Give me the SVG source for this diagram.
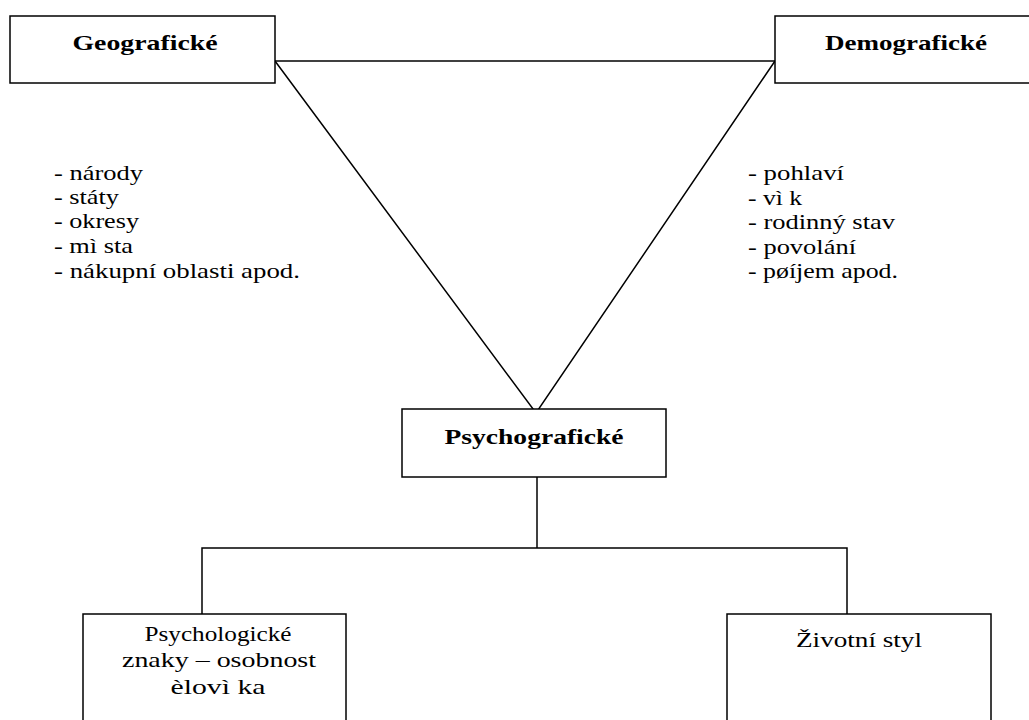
<svg xmlns="http://www.w3.org/2000/svg" width="1029" height="720" viewBox="0 0 1029 720">
<style>
.box{fill:#fff;stroke:#000;stroke-width:1.5}
.ln{fill:none;stroke:#000;stroke-width:1.5}
</style>
<defs/>
<rect width="1029" height="720" fill="#fff"/>
<g id="connectors">
<path class="ln" d="M275 61 L775 61"/>
<path class="ln" d="M275 61 L536 413 L775 61"/>
<path class="ln" d="M537 477 L537 548"/>
<path class="ln" d="M202 614 L202 548 L847 548 L847 614"/>
</g>
<g font-family="Liberation Serif, serif" font-size="22" fill="#000">
<g id="geograficke">
<rect class="box" x="10" y="16" width="265" height="67"/>
<text x="145" y="50" font-weight="bold" text-anchor="middle" textLength="145" lengthAdjust="spacingAndGlyphs">Geografické</text>
</g>
<g id="demograficke">
<rect class="box" x="775" y="16" width="270" height="67"/>
<text x="906" y="50" font-weight="bold" text-anchor="middle" textLength="162" lengthAdjust="spacingAndGlyphs">Demografické</text>
</g>
<g id="psychograficke">
<rect class="box" x="402" y="409" width="264" height="68"/>
<text x="534" y="444" font-weight="bold" text-anchor="middle" textLength="179" lengthAdjust="spacingAndGlyphs">Psychografické</text>
</g>
<g id="psychologicke">
<rect class="box" x="83" y="614" width="263" height="120"/>
<text x="218" y="641" text-anchor="middle" textLength="147" lengthAdjust="spacingAndGlyphs">Psychologické</text>
<text x="219" y="667" text-anchor="middle" textLength="194" lengthAdjust="spacingAndGlyphs">znaky – osobnost</text>
<text x="218" y="694" text-anchor="middle" textLength="95" lengthAdjust="spacingAndGlyphs">èlovì ka</text>
</g>
<g id="zivotni-styl">
<rect class="box" x="727" y="614" width="264" height="120"/>
<text x="859" y="647" text-anchor="middle" textLength="126" lengthAdjust="spacingAndGlyphs">Životní styl</text>
</g>
<g id="geo-list">
<text x="54" y="180" textLength="89" lengthAdjust="spacingAndGlyphs">- národy</text>
<text x="54" y="204" textLength="65" lengthAdjust="spacingAndGlyphs">- státy</text>
<text x="54" y="228" textLength="85" lengthAdjust="spacingAndGlyphs">- okresy</text>
<text x="54" y="253" textLength="79" lengthAdjust="spacingAndGlyphs">- mì sta</text>
<text x="54" y="278" textLength="246" lengthAdjust="spacingAndGlyphs">- nákupní oblasti apod.</text>
</g>
<g id="demo-list">
<text x="748" y="180" textLength="96" lengthAdjust="spacingAndGlyphs">- pohlaví</text>
<text x="748" y="205" textLength="54" lengthAdjust="spacingAndGlyphs">- vì k</text>
<text x="748" y="229" textLength="147" lengthAdjust="spacingAndGlyphs">- rodinný stav</text>
<text x="748" y="254" textLength="108" lengthAdjust="spacingAndGlyphs">- povolání</text>
<text x="748" y="278" textLength="150" lengthAdjust="spacingAndGlyphs">- pøíjem apod.</text>
</g>
</g>
</svg>
